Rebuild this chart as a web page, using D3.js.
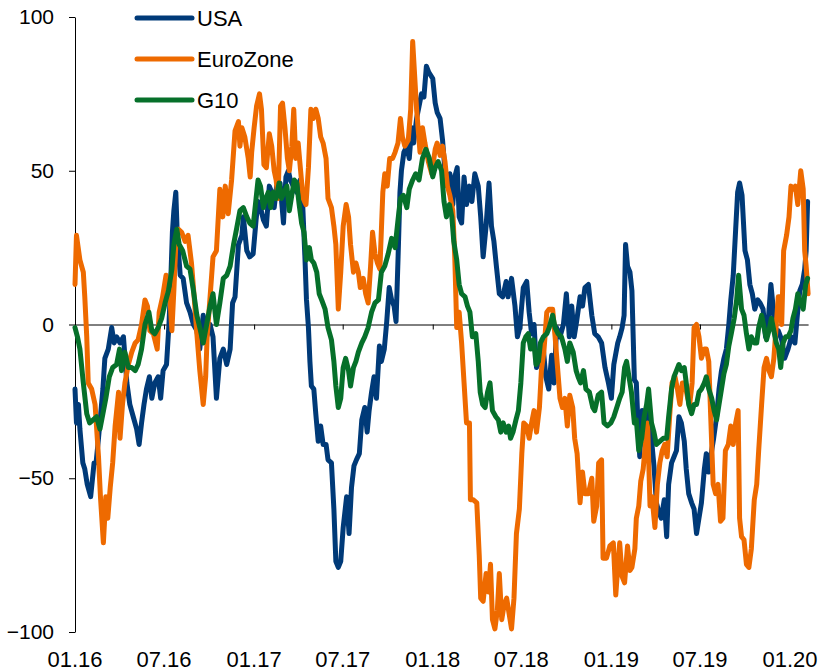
<!DOCTYPE html>
<html>
<head>
<meta charset="utf-8">
<script src="https://cdn.jsdelivr.net/npm/d3@7"></script>
<style>
  html, body { margin: 0; padding: 0; background: #fff; }
  svg { display: block; font-family: "Liberation Sans", Arial, sans-serif; }
</style>
</head>
<body>
<div class="drawer"></div>
<script>
// x values are months since 01.16, y values are the index level
let usaData = [
  [0,-21],[0.11,-32],[0.22,-26],[0.34,-34],[0.51,-45],[0.67,-47],[0.83,-52],[1.05,-56],[1.28,-45],[1.41,-45],
  [1.57,-37],[1.72,-30],[1.86,-21],[2.01,-11],[2.24,-8],[2.46,-1],[2.62,-6],[2.8,-4],[3.02,-6],[3.24,-4],
  [3.47,-19],[3.69,-26],[3.92,-30],[4.14,-34],[4.3,-39],[4.47,-32],[4.63,-26],[4.81,-21],[4.99,-17],[5.15,-24],
  [5.37,-19],[5.59,-17],[5.75,-24],[5.93,-15],[6.15,-13],[6.31,0],[6.42,11],[6.53,30],[6.64,37],[6.78,43],
  [6.87,29],[7.05,16],[7.27,15],[7.49,7],[7.72,4],[7.94,0],[8.17,-2],[8.39,-8],[8.61,3],[8.84,-4],
  [9.06,0],[9.28,-4],[9.51,-24],[9.73,-11],[9.96,-8],[10.18,-13],[10.4,-8],[10.58,7],[10.74,9],[10.96,26],
  [11.19,29],[11.3,35],[11.52,24],[11.74,22],[11.97,23],[12.15,34],[12.3,40],[12.46,38],[12.64,34],[12.86,32],
  [13.04,45],[13.2,43],[13.36,38],[13.53,45],[13.76,46],[13.98,33],[14.16,48],[14.32,50],[14.47,47],[14.65,45],
  [14.88,43],[15.1,47],[15.28,40],[15.44,21],[15.55,8],[15.66,-1],[15.77,-12],[15.88,-20],[16.04,-21],[16.17,-29],
  [16.33,-38],[16.49,-33],[16.67,-39],[16.85,-39],[17.0,-44],[17.23,-45],[17.38,-60],[17.5,-77],[17.67,-79],[17.83,-77],
  [18.01,-66],[18.23,-56],[18.39,-68],[18.57,-53],[18.72,-46],[18.9,-44],[19.08,-42],[19.24,-31],[19.46,-27],[19.62,-35],
  [19.75,-28],[19.91,-22],[20.07,-17],[20.25,-24],[20.43,-7],[20.58,-12],[20.76,-8],[20.92,1],[21.1,12],[21.25,8],
  [21.41,6],[21.54,1],[21.7,21],[21.81,43],[21.92,50],[22.08,56],[22.26,58],[22.44,54],[22.6,64],[22.75,59],
  [22.93,67],[23.11,71],[23.27,75],[23.42,74],[23.6,84],[23.76,82],[24.0,80],[24.17,72],[24.32,69],[24.5,67],
  [24.68,60],[24.84,50],[25.0,45],[25.17,49],[25.35,39],[25.51,48],[25.66,51],[25.8,35],[25.96,33],[26.11,48],
  [26.29,39],[26.47,45],[26.63,40],[26.85,49],[27.07,45],[27.23,35],[27.41,22],[27.59,32],[27.81,46],[27.97,32],
  [28.13,27],[28.3,19],[28.48,10],[28.71,9],[28.93,14],[29.09,9],[29.31,15],[29.53,6],[29.69,-4],[29.87,-1],
  [30.09,12],[30.32,14],[30.5,4],[30.65,-3],[30.81,0],[30.99,-14],[31.21,-12],[31.44,-8],[31.62,-17],[31.79,-21],
  [32.0,-10],[32.15,-19],[32.33,-1],[32.56,-4],[32.78,0],[33.0,10],[33.18,-4],[33.34,6],[33.5,-4],[33.67,1],
  [33.9,9],[34.08,6],[34.23,12],[34.46,13],[34.68,3],[34.9,-3],[35.13,-4],[35.35,-6],[35.57,-14],[35.8,-19],
  [36.02,-24],[36.18,-13],[36.42,-6],[36.58,-4],[36.73,-1],[36.87,3],[36.96,26],[37.09,19],[37.25,17],[37.4,11],
  [37.54,-18],[37.69,-19],[37.81,-35],[37.92,-43],[38.07,-28],[38.25,-32],[38.43,-26],[38.59,-32],[38.75,-39],[38.88,-46],
  [39.04,-58],[39.19,-61],[39.37,-63],[39.55,-57],[39.71,-69],[39.86,-52],[40.04,-45],[40.22,-43],[40.38,-41],[40.54,-30],
  [40.71,-32],[40.89,-38],[41.05,-47],[41.21,-55],[41.39,-58],[41.56,-60],[41.72,-68],[41.88,-63],[42.06,-58],[42.24,-47],
  [42.39,-42],[42.55,-48],[42.73,-41],[42.88,-37],[43.06,-30],[43.22,-21],[43.4,-15],[43.58,-11],[43.73,-8],[43.89,0],
  [44.03,8],[44.18,16],[44.34,31],[44.47,43],[44.63,46],[44.79,42],[44.97,24],[45.14,21],[45.3,13],[45.46,10],
  [45.64,5],[45.82,8],[46.0,7],[46.2,5],[46.35,-4],[46.53,0],[46.71,13],[46.87,5],[47.02,-4],[47.2,-2],
  [47.43,-5],[47.65,-11],[47.87,-8],[48.1,-4],[48.32,-6],[48.5,3],[48.66,11],[48.81,13],[48.99,18],[49.1,24],
  [49.17,40]
]

let euroData = [
  [0,13],[0.11,29],[0.34,21],[0.56,17],[0.67,9],[0.78,-4],[0.9,-19],[1.12,-21],[1.34,-26],[1.57,-43],
  [1.72,-56],[1.9,-71],[2.08,-56],[2.19,-63],[2.35,-53],[2.53,-45],[2.68,-33],[2.91,-22],[3.02,-37],[3.18,-26],
  [3.36,-19],[3.58,-13],[3.8,-9],[4.03,-6],[4.25,-5],[4.47,0],[4.7,8],[4.85,6],[5.03,-2],[5.26,-3],
  [5.53,-8],[5.66,4],[5.88,9],[6.1,16],[6.33,11],[6.49,-2],[6.64,11],[6.78,26],[6.94,31],[7.16,30],
  [7.38,27],[7.6,29],[7.83,20],[7.99,10],[8.17,-3],[8.39,-15],[8.61,-26],[8.77,-17],[8.88,-4],[9.06,9],
  [9.28,22],[9.5,24],[9.73,44],[9.91,35],[10.07,45],[10.29,36],[10.52,47],[10.74,63],[10.96,66],[11.08,58],
  [11.19,64],[11.41,61],[11.64,54],[11.75,48],[11.86,56],[12.02,64],[12.19,71],[12.37,75],[12.53,70],[12.68,52],
  [12.86,51],[13.04,62],[13.2,58],[13.36,50],[13.49,47],[13.65,41],[13.8,71],[13.94,72],[14.1,64],[14.25,54],
  [14.39,50],[14.54,58],[14.7,70],[14.83,54],[14.99,59],[15.15,50],[15.32,41],[15.5,39],[15.66,51],[15.82,70],
  [16.0,67],[16.17,70],[16.33,67],[16.49,61],[16.67,59],[16.85,54],[17.0,41],[17.23,38],[17.38,32],[17.52,26],
  [17.67,5],[17.83,17],[18.01,32],[18.19,39],[18.35,35],[18.5,26],[18.68,17],[18.86,20],[19.02,17],[19.17,12],
  [19.35,15],[19.53,10],[19.69,7],[19.84,19],[19.98,30],[20.13,23],[20.29,20],[20.47,18],[20.65,43],[20.81,49],
  [20.96,45],[21.14,54],[21.32,54],[21.48,56],[21.7,59],[21.86,67],[21.99,61],[22.15,58],[22.37,60],[22.53,70],
  [22.68,92],[22.93,70],[23.15,56],[23.33,64],[23.49,59],[23.71,53],[23.94,49],[24.17,57],[24.32,59],[24.5,55],
  [24.68,58],[24.84,53],[25.0,45],[25.17,42],[25.35,37],[25.51,22],[25.62,-1],[25.8,4],[25.96,-6],[26.11,-19],
  [26.29,-32],[26.47,-32],[26.56,-57],[26.74,-57],[26.96,-58],[27.14,-75],[27.23,-89],[27.41,-90],[27.59,-81],[27.75,-87],
  [27.9,-78],[28.04,-96],[28.19,-99],[28.35,-93],[28.48,-81],[28.64,-96],[28.8,-91],[28.98,-89],[29.15,-94],[29.31,-99],
  [29.47,-89],[29.65,-68],[29.83,-60],[29.98,-42],[30.14,-32],[30.32,-33],[30.5,-37],[30.65,-32],[30.81,-28],[30.99,-35],
  [31.17,-27],[31.32,-15],[31.48,-9],[31.66,4],[31.84,5],[32.06,5],[32.22,-4],[32.38,-14],[32.56,-24],[32.73,-27],
  [32.89,-24],[33.05,-33],[33.23,-23],[33.41,-27],[33.56,-37],[33.72,-42],[33.9,-58],[34.08,-48],[34.23,-55],[34.46,-55],
  [34.68,-50],[34.84,-64],[35.02,-59],[35.17,-45],[35.35,-44],[35.46,-76],[35.69,-76],[35.91,-72],[36.13,-71],[36.31,-88],
  [36.42,-79],[36.58,-71],[36.73,-82],[36.91,-84],[37.09,-72],[37.25,-80],[37.4,-79],[37.58,-73],[37.69,-63],[37.85,-59],
  [37.99,-51],[38.14,-47],[38.3,-38],[38.43,-32],[38.59,-59],[38.75,-56],[38.92,-66],[39.1,-52],[39.26,-45],[39.42,-41],
  [39.6,-39],[39.77,-43],[39.93,-30],[40.09,-19],[40.27,-17],[40.45,-21],[40.6,-26],[40.76,-19],[40.94,-19],[41.12,-24],
  [41.27,-26],[41.43,-19],[41.56,-1],[41.72,0],[41.88,-4],[42.06,-11],[42.24,-8],[42.39,-8],[42.55,-12],[42.68,-30],
  [42.84,-52],[43.0,-55],[43.18,-52],[43.35,-64],[43.51,-63],[43.67,-41],[43.85,-39],[44.03,-33],[44.18,-39],[44.34,-32],
  [44.52,-28],[44.63,-63],[44.74,-69],[44.92,-70],[45.08,-78],[45.23,-79],[45.41,-73],[45.59,-57],[45.75,-52],[45.9,-41],
  [46.08,-26],[46.26,-14],[46.42,-11],[46.58,-15],[46.75,-17],[46.93,-11],[47.09,0],[47.2,9],[47.31,9],[47.43,0],
  [47.58,24],[47.76,29],[47.92,35],[48.05,45],[48.21,44],[48.37,45],[48.54,39],[48.72,50],[48.88,44],[48.99,24],
  [49.1,19],[49.21,10]
]

let g10Data = [
  [0,-1],[0.16,-4],[0.34,-8],[0.56,-19],[0.78,-29],[1.0,-32],[1.23,-31],[1.45,-30],[1.68,-34],[1.86,-29],
  [2.08,-24],[2.3,-17],[2.53,-14],[2.8,-13],[2.98,-8],[3.13,-15],[3.36,-9],[3.58,-14],[3.8,-14],[4.03,-15],
  [4.25,-13],[4.47,-8],[4.7,0],[4.97,4],[5.15,-2],[5.37,-3],[5.59,-1],[5.82,2],[6.04,7],[6.26,11],
  [6.49,18],[6.64,26],[6.82,31],[7.0,26],[7.23,24],[7.49,19],[7.72,18],[7.94,11],[8.17,3],[8.39,-1],
  [8.61,-6],[8.84,0],[9.06,6],[9.28,10],[9.51,0],[9.73,7],[9.96,15],[10.18,16],[10.4,19],[10.63,26],
  [10.85,31],[11.07,37],[11.3,38],[11.52,35],[11.74,33],[11.97,32],[12.15,41],[12.3,47],[12.46,45],[12.64,38],
  [12.82,41],[12.97,43],[13.13,38],[13.31,43],[13.49,41],[13.71,46],[13.87,41],[14.03,43],[14.21,45],[14.39,37],
  [14.54,42],[14.72,47],[14.88,46],[15.06,39],[15.21,33],[15.37,30],[15.55,21],[15.73,25],[15.88,21],[16.04,20],
  [16.22,17],[16.38,10],[16.56,8],[16.78,5],[17.0,-1],[17.23,-5],[17.38,-12],[17.52,-20],[17.67,-27],[17.83,-24],
  [18.01,-14],[18.17,-11],[18.35,-15],[18.5,-20],[18.68,-14],[18.86,-12],[19.02,-9],[19.24,-6],[19.46,-4],[19.69,-1],
  [19.91,4],[20.13,7],[20.36,8],[20.58,17],[20.81,19],[21.03,23],[21.25,28],[21.48,25],[21.7,34],[21.86,41],
  [22.04,42],[22.26,38],[22.44,44],[22.66,47],[22.88,49],[23.11,47],[23.33,54],[23.56,57],[23.78,54],[24.0,48],
  [24.17,51],[24.39,53],[24.61,50],[24.77,40],[24.95,35],[25.13,39],[25.31,35],[25.44,27],[25.62,21],[25.8,13],
  [25.96,10],[26.18,9],[26.34,6],[26.51,4],[26.69,-4],[26.92,-3],[27.07,-12],[27.19,-22],[27.36,-26],[27.52,-27],
  [27.68,-22],[27.86,-19],[28.04,-28],[28.26,-30],[28.42,-31],[28.57,-35],[28.75,-32],[28.93,-35],[29.11,-33],[29.24,-37],
  [29.42,-35],[29.6,-31],[29.76,-28],[29.92,-19],[30.09,-6],[30.25,-4],[30.43,-3],[30.59,-8],[30.77,-5],[30.94,-13],
  [31.1,-12],[31.26,-6],[31.44,-4],[31.66,-3],[31.84,-1],[32.06,3],[32.22,-1],[32.44,-3],[32.67,-4],[32.89,-8],
  [33.05,-12],[33.23,-6],[33.45,-9],[33.63,-15],[33.79,-17],[33.94,-19],[34.12,-15],[34.3,-21],[34.52,-22],[34.75,-27],
  [34.9,-28],[35.13,-23],[35.35,-22],[35.51,-32],[35.73,-33],[35.96,-32],[36.18,-30],[36.42,-26],[36.58,-24],[36.73,-22],
  [36.91,-14],[37.02,-12],[37.18,-17],[37.36,-22],[37.54,-32],[37.69,-31],[37.85,-41],[38.03,-37],[38.21,-30],[38.37,-26],
  [38.52,-21],[38.7,-32],[38.88,-35],[39.04,-39],[39.26,-38],[39.48,-37],[39.71,-37],[39.86,-30],[40.04,-21],[40.22,-17],
  [40.38,-15],[40.54,-13],[40.71,-15],[40.89,-14],[41.05,-19],[41.21,-26],[41.39,-29],[41.56,-26],[41.72,-26],[41.88,-22],
  [42.06,-21],[42.24,-19],[42.39,-17],[42.55,-21],[42.73,-24],[42.91,-28],[43.06,-31],[43.22,-26],[43.4,-21],[43.58,-16],
  [43.73,-13],[43.89,-7],[44.07,-3],[44.25,2],[44.41,8],[44.56,16],[44.74,5],[44.92,3],[45.08,-3],[45.23,-8],
  [45.41,-4],[45.59,-6],[45.75,-6],[45.9,-1],[46.08,3],[46.26,-1],[46.42,-5],[46.58,-2],[46.75,2],[46.93,-2],
  [47.09,-6],[47.25,-8],[47.38,-14],[47.54,-6],[47.7,-4],[47.87,-4],[48.05,-2],[48.21,2],[48.37,5],[48.54,10],
  [48.72,7],[48.88,5],[49.04,13],[49.17,15]
]

let seriesNames = ['USA', 'EuroZone', 'G10']
let seriesColors = ['#003a78', '#ee6a00', '#06702a']
let tickLabels = ['01.16', '07.16', '01.17', '07.17', '01.18', '07.18', '01.19', '07.19', '01.20']
let yTicks = [-100, -50, 0, 50, 100]

{
  let width = 821, height = 672
  let startDate = new Date(2016, 0, 1)
  let toDate = m => d3.timeDay.offset(startDate, Math.round(m * 30.4375))
  let parseTick = d3.timeParse('%m.%y')

  let svg = d3.select('.drawer').append('svg')
    .attr('width', width)
    .attr('height', height)

  let x = d3.scaleTime()
    .domain([startDate, new Date(2020, 0, 1)])
    .range([75, 790])
  let y = d3.scaleLinear()
    .domain([-100, 100])
    .range([632, 17])

  // left axis
  let yAxis = d3.axisLeft(y)
    .tickValues(yTicks)
    .tickSize(6)
    .tickSizeOuter(0)
    .tickPadding(15)
  let yG = svg.append('g')
    .attr('transform', `translate(${x(startDate)},0)`)
    .call(yAxis)
  yG.select('.domain').attr('stroke', '#000').attr('stroke-width', 1)
  yG.selectAll('.tick line').attr('stroke', '#000')
  yG.selectAll('.tick text')
    .attr('fill', '#000')
    .style('font-size', '21px')
    .style('font-family', '"Liberation Sans", Arial, sans-serif')

  // zero line with half-year ticks
  let allData = [usaData, euroData, g10Data]
  let lastDate = toDate(d3.max(allData, s => s[s.length - 1][0]))
  let tickDates = tickLabels.map(parseTick)
  let zeroScale = x.copy().domain([startDate, lastDate]).range([x(startDate), x(lastDate)])
  let xAxis = d3.axisBottom(zeroScale)
    .tickValues(tickDates)
    .tickSize(5)
    .tickSizeOuter(0)
    .tickFormat('')
  let xG = svg.append('g')
    .attr('transform', `translate(0,${y(0)})`)
    .call(xAxis)
  xG.select('.domain').attr('stroke', '#000').attr('stroke-width', 1)
  xG.selectAll('.tick line').attr('stroke', '#000')

  // bottom labels
  svg.append('g').selectAll('text')
    .data(tickLabels)
    .enter()
    .append('text')
    .attr('x', d => x(parseTick(d)))
    .attr('y', 667)
    .attr('text-anchor', 'middle')
    .style('font-size', '22px')
    .attr('fill', '#000')
    .text(d => d)

  let line = d3.line()
    .x(d => x(toDate(d[0])))
    .y(d => y(d[1]))

  svg.append('g').selectAll('path')
    .data(allData)
    .enter()
    .append('path')
    .attr('d', d => line(d))
    .attr('fill', 'none')
    .attr('stroke', (d, i) => seriesColors[i])
    .attr('stroke-width', 5)
    .attr('stroke-linejoin', 'round')
    .attr('stroke-linecap', 'round')

  // legend
  let legend = svg.append('g').selectAll('g')
    .data(seriesNames)
    .enter()
    .append('g')
    .attr('transform', (d, i) => `translate(137,${18 + i * 41})`)
  legend.append('line')
    .attr('x1', 0)
    .attr('x2', 55)
    .attr('stroke', (d, i) => seriesColors[i])
    .attr('stroke-width', 5)
    .attr('stroke-linecap', 'round')
  legend.append('text')
    .attr('x', 60)
    .attr('y', 0)
    .attr('dy', '0.35em')
    .style('font-size', '22px')
    .attr('fill', '#000')
    .text(d => d)
}
</script>
</body>
</html>
